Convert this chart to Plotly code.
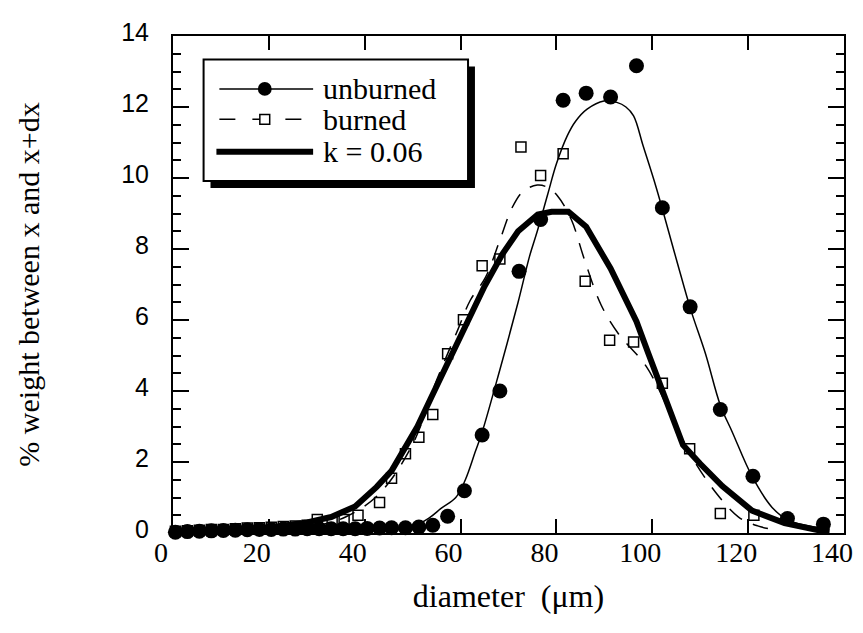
import plotly.graph_objects as go

# measured points, unburned sample (filled circles)
unburned_x = [0.5, 3, 5.5, 8, 10.5, 13, 15.5, 18, 20.5, 23, 25.5, 28, 30.5, 33, 35.5, 38, 40.5,
              43.1, 45.6, 48.5, 51.3, 54.2, 57.3, 60.8, 64.5, 68.2, 72.2, 76.7, 81.4, 86.2, 91.3,
              96.7, 102.1, 107.9, 114.2, 121.0, 128.2, 135.7]
unburned_y = [0.02, 0.04, 0.05, 0.06, 0.07, 0.08, 0.09, 0.1, 0.1, 0.11, 0.11, 0.12, 0.12, 0.12,
              0.12, 0.12, 0.13, 0.14, 0.15, 0.15, 0.17, 0.22, 0.47, 1.19, 2.76, 4.0, 7.37, 8.83,
              12.19, 12.39, 12.28, 13.16, 9.16, 6.37, 3.48, 1.6, 0.41, 0.25]

# measured points, burned sample (open squares)
burned_x = [0.5, 3, 5.5, 8, 10.5, 13, 15.5, 18, 20.5, 23, 25.5, 28, 30.1, 33.2, 35.7, 38.6,
            43.1, 45.6, 48.5, 51.3, 54.2, 57.3, 60.6, 64.5, 68.2, 72.6, 76.7, 81.4, 86.0, 91.1,
            96.1, 102.1, 107.8, 114.2, 121.2]
burned_y = [0.05, 0.06, 0.08, 0.1, 0.1, 0.12, 0.14, 0.15, 0.16, 0.18, 0.2, 0.22, 0.38, 0.34,
            0.38, 0.5, 0.86, 1.54, 2.23, 2.7, 3.34, 5.05, 6.01, 7.53, 7.72, 10.87, 10.07, 10.68,
            7.09, 5.43, 5.38, 4.22, 2.37, 0.55, 0.5]

# fitted curve through unburned data (thin solid)
fit_unb_x = [0, 20, 40, 46, 50, 53.4, 56, 59, 61, 63.1, 64.5, 68.2, 72, 74.4, 76, 78.2, 80,
             82.3, 84, 86.4, 89.9, 92.6, 94.5, 96.1, 98.1, 100.8, 105, 108, 111.1, 114.2,
             116.7, 120.8, 125, 128.4, 133.8, 136.5]
fit_unb_y = [0.03, 0.05, 0.05, 0.08, 0.18, 0.42, 0.7, 1.0, 1.5, 2.3, 2.84, 4.6, 6.5, 7.8, 8.5,
             9.55, 10.4, 11.2, 11.6, 11.94, 12.17, 12.13, 12.0, 11.75, 10.9, 9.74, 7.72, 6.3,
             5.05, 3.6, 2.84, 1.6, 0.72, 0.36, 0.17, 0.14]

# fitted curve through burned data (dashed)
fit_bur_x = [0, 20, 30, 36, 43, 50, 55, 59.5, 62, 65.2, 68.2, 70.7, 73, 76, 78.1, 80.2, 83.1,
             85.8, 89.3, 93, 98.7, 104, 108, 113.2, 118, 122, 126]
fit_bur_y = [0.05, 0.15, 0.22, 0.45, 1.1, 2.5, 4.3, 5.75, 6.55, 7.2, 8.25, 9.15, 9.62, 9.8,
             9.74, 9.5, 8.83, 7.72, 6.43, 5.6, 4.7, 3.3, 2.2, 1.15, 0.45, 0.2, 0.08]

# model, k = 0.06 (thick)
model_x = [0, 10, 20, 28, 33, 38, 42.5, 45.6, 48, 51, 54, 57, 61, 65, 68.7, 72, 76.1, 79,
           82.5, 86.2, 91.3, 96.7, 99.2, 102.9, 106.4, 110, 114.6, 120.8, 127.6, 134.6, 137]
model_y = [0.05, 0.1, 0.15, 0.3, 0.45, 0.75, 1.3, 1.75, 2.3, 3.0, 3.85, 4.7, 5.8, 6.95, 7.85,
           8.5, 8.97, 9.05, 9.05, 8.63, 7.45, 5.96, 5.05, 3.75, 2.48, 1.95, 1.32, 0.63, 0.28,
           0.08, 0.05]

legend_labels = ["unburned", "burned", "k = 0.06"]

serif = "Liberation Serif"
sans = "Liberation Sans"

fig = go.Figure()
fig.add_trace(go.Scatter(x=burned_x, y=burned_y, mode="markers", cliponaxis=False,
                         marker=dict(symbol="square", size=10, color="white",
                                     line=dict(color="black", width=1.5))))
fig.add_trace(go.Scatter(x=fit_bur_x, y=fit_bur_y, mode="lines",
                         line=dict(color="black", width=1.5, dash="16px,12px", shape="spline")))
fig.add_trace(go.Scatter(x=fit_unb_x, y=fit_unb_y, mode="lines",
                         line=dict(color="black", width=1.5, shape="spline")))
fig.add_trace(go.Scatter(x=model_x, y=model_y, mode="lines", cliponaxis=False,
                         line=dict(color="black", width=6)))
fig.add_trace(go.Scatter(x=unburned_x, y=unburned_y, mode="markers", cliponaxis=False,
                         marker=dict(symbol="circle", size=15, color="black")))

# the page body has an 8px margin, so work in screen pixels and shift back
OFF = 8
W, H = 863 - OFF, 633 - OFF
L, R, T, B = 173 - OFF, 853 - OFF, 26 - OFF, 533 - OFF


def px(x):
    return (x - OFF - L) / (R - L)


def py(y):
    return (B - (y - OFF)) / (B - T)


# hand-drawn legend box with drop shadow (screen pixel coords)
shapes = [
    dict(type="rect", x0=px(211), x1=px(479), y0=py(57), y1=py(181),
         fillcolor="black", line=dict(width=0)),
    dict(type="rect", x0=px(204), x1=px(472), y0=py(50), y1=py(174),
         fillcolor="white", line=dict(color="black", width=2)),
    dict(type="line", x0=px(220), x1=px(315), y0=py(80), y1=py(80),
         line=dict(color="black", width=1.5)),
    dict(type="circle", x0=px(259), x1=px(273), y0=py(73), y1=py(87),
         fillcolor="black", line=dict(width=0)),
    dict(type="line", x0=px(220), x1=px(315), y0=py(111), y1=py(111),
         line=dict(color="black", width=1.5, dash="16px,17px")),
    dict(type="rect", x0=px(261), x1=px(271), y0=py(106), y1=py(116),
         fillcolor="white", line=dict(color="black", width=1.5)),
    dict(type="line", x0=px(217), x1=px(315), y0=py(144), y1=py(144),
         line=dict(color="black", width=6)),
]
for s in shapes:
    s.update(xref="paper", yref="paper", layer="above")

annotations = []
for label, yy in zip(legend_labels, [80, 111, 144]):
    annotations.append(dict(text=label, x=px(323), y=py(yy), xref="paper", yref="paper",
                            xanchor="left", yanchor="middle", showarrow=False,
                            font=dict(family=serif, size=30, color="black")))

fig.update_layout(
    width=W, height=H,
    margin=dict(l=L, r=W - R, t=T, b=H - B),
    paper_bgcolor="white", plot_bgcolor="white",
    font=dict(family=serif, color="black"),
    showlegend=False,
    shapes=shapes,
    annotations=annotations,
)

fig.update_xaxes(
    range=[0, 140], tick0=0, dtick=20, ticks="inside", ticklen=14, tickwidth=1.5,
    tickcolor="black", showline=True, linewidth=2, linecolor="black", mirror="allticks",
    showgrid=False, zeroline=False, ticklabelshift=-12, ticklabelstandoff=-7,
    ticklabeloverflow="allow",
    tickfont=dict(family=serif, size=28, color="black"),
    title=dict(text="diameter\u00a0\u00a0(μm)", font=dict(family=serif, size=32, color="black"),
               standoff=18),
)
fig.update_yaxes(
    range=[0, 14], tick0=0, dtick=2, ticks="inside", ticklen=16, tickwidth=1.5,
    tickcolor="black", showline=True, linewidth=2, linecolor="black", mirror="allticks",
    showgrid=False, zeroline=False, ticklabelshift=-4, ticklabelstandoff=17,
    ticklabeloverflow="allow",
    minor=dict(dtick=0.5, ticks="inside", ticklen=8, tickwidth=1.5, tickcolor="black",
               showgrid=False),
    tickfont=dict(family=sans, size=25, color="black"),
    title=dict(text="% weight between x and x+dx", font=dict(family=serif, size=30, color="black"),
               standoff=73),
)

fig.write_html("out.html")
